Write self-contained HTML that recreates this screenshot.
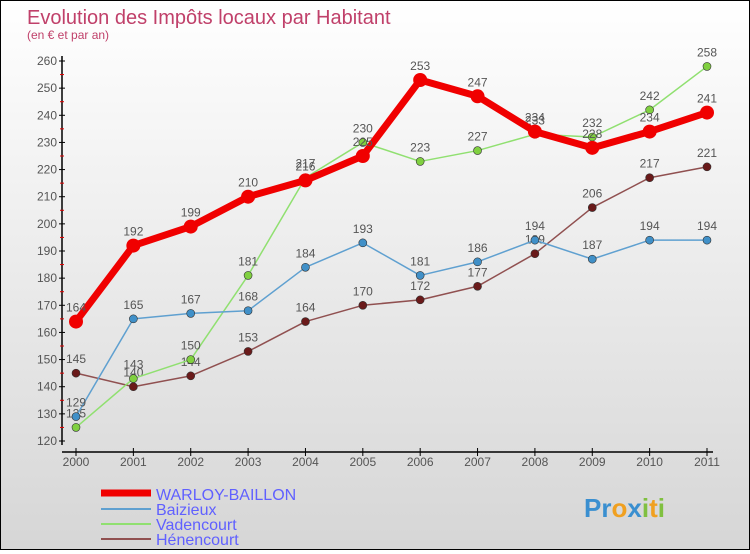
<!DOCTYPE html>
<html><head><meta charset="utf-8"><style>
html,body{margin:0;padding:0}
body{width:750px;height:550px;overflow:hidden;font-family:"Liberation Sans","DejaVu Sans",sans-serif}
#wrap{position:relative;width:748px;height:548px;border:1px solid #000;background:linear-gradient(#ffffff,#d6d6d6)}
</style></head><body>
<div id="wrap">
<svg id="chart" width="748" height="548" xmlns="http://www.w3.org/2000/svg">
<text x="26" y="23" font-size="20" fill="#c0406a">Evolution des Impôts locaux par Habitant</text>
<text x="26" y="38" font-size="12" fill="#c0406a">(en € et par an)</text>
<g id="axes"></g><g id="series"></g>
<g>
<line x1="100" y1="492" x2="150" y2="492" stroke="#f00000" stroke-width="7"/>
<text x="155" y="499" font-size="16" fill="#6060ff">WARLOY-BAILLON</text>
<line x1="100" y1="508" x2="150" y2="508" stroke="#5fa0d0" stroke-width="2"/>
<text x="155" y="514" font-size="16" fill="#6060ff">Baizieux</text>
<line x1="100" y1="523" x2="150" y2="523" stroke="#90e070" stroke-width="2"/>
<text x="155" y="529" font-size="16" fill="#6060ff">Vadencourt</text>
<line x1="100" y1="538" x2="150" y2="538" stroke="#905050" stroke-width="2"/>
<text x="155" y="544" font-size="16" fill="#6060ff">Hénencourt</text>
</g>
<text x="583" y="516" font-size="26" font-weight="bold"><tspan fill="#3a8fd0">Pr</tspan><tspan fill="#f0a020">o</tspan><tspan fill="#3a8fd0">x</tspan><tspan fill="#80c040">i</tspan><tspan fill="#f0a020">t</tspan><tspan fill="#80c040">i</tspan></text>
</svg></div>
<script>
const years=["2000","2001","2002","2003","2004","2005","2006","2007","2008","2009","2010","2011"];
const yTicks=[120,130,140,150,160,170,180,190,200,210,220,230,240,250,260];
const warloy=[164,192,199,210,216,225,253,247,234,228,234,241];
const baizieux=[129,165,167,168,184,193,181,186,194,187,194,194];
const vadencourt=[125,143,150,181,217,230,223,227,233,232,242,258];
const henencourt=[145,140,144,153,164,170,172,177,189,206,217,221];
const NS="http://www.w3.org/2000/svg";
const xS=i=>75+i*(706-75)/11;
const yS=v=>440-(v-120)*(380/140);
function mk(t,a,p){const e=document.createElementNS(NS,t);for(const k in a)e.setAttribute(k,a[k]);p.appendChild(e);return e;}
const ax=document.getElementById('axes');
let l=mk('line',{x1:61,y1:55,x2:61,y2:444,stroke:'#000','stroke-width':1.5},ax);


l=mk('line',{x1:61,y1:451,x2:712,y2:451,stroke:'#000','stroke-width':1.5},ax);


yTicks.forEach((v,i)=>{
  mk('line',{x1:58,y1:yS(v),x2:64,y2:yS(v),stroke:'#000'},ax);
  if(i<yTicks.length-1)mk('line',{x1:59,y1:yS(v+5),x2:63,y2:yS(v+5),stroke:'#e00000'},ax);
  const t=mk('text',{x:56,y:yS(v)+4,'font-size':12,fill:'#555','text-anchor':'end'},ax);
  t.textContent=v;
  
  
});
years.forEach((y,i)=>{
  mk('line',{x1:xS(i),y1:447,x2:xS(i),y2:455,stroke:'#000'},ax);
  const t=mk('text',{x:xS(i),y:465,'font-size':12,fill:'#555','text-anchor':'middle'},ax);
  t.textContent=y;
  
  
});
const sg=document.getElementById('series');
function draw(vals,name,col,w,r,dot){
  const g=mk('g',{},sg);
  
  
  const pts=vals.map((v,i)=>xS(i)+','+yS(v)).join(' ');
  mk('polyline',{points:pts,fill:'none',stroke:col,'stroke-width':w,'stroke-linejoin':'round'},g);
  vals.forEach((v,i)=>{
    const c=mk('circle',{cx:xS(i),cy:yS(v),r:r,fill:dot,stroke:'#333','stroke-width':r>5?0:0.6},g);
    
    
    const t=mk('text',{x:xS(i),y:yS(v)-10,'font-size':12,fill:'#555','text-anchor':'middle'},g);
    t.textContent=v;
    
    
  });
}
draw(henencourt,'henencourt','#905050',1.5,4,'#6a1a1a');
draw(vadencourt,'vadencourt','#90e070',1.5,4,'#80d040');
draw(baizieux,'baizieux','#5fa0d0',1.5,4,'#4090c8');
draw(warloy,'warloy','#f00000',7,7,'#f00000');
</script>
</body></html>
